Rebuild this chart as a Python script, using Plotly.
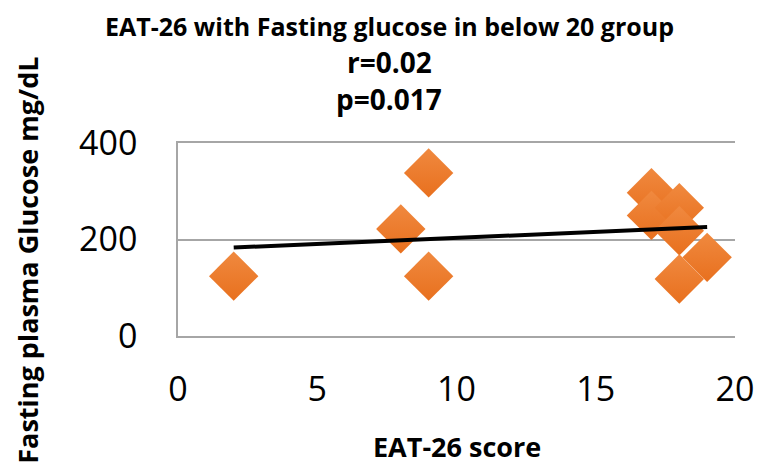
import numpy as np
import plotly.graph_objects as go

# Data
eat26_score = [2, 8, 9, 9, 17, 17, 18, 18, 18, 19]
fasting_glucose = [124, 222, 338, 124, 297, 250, 266, 218, 118, 163]
x_ticks = [0, 5, 10, 15, 20]
y_ticks = [0, 200, 400]
title_lines = ["EAT-26 with Fasting glucose in below 20 group", "r=0.02", "p=0.017"]
x_title = "EAT-26 score"
y_title = "Fasting plasma Glucose mg/dL"

slope, intercept = np.polyfit(eat26_score, fasting_glucose, 1)
x_fit = [min(eat26_score), max(eat26_score)]
y_fit = [slope * v + intercept for v in x_fit]

FONT = "Open Sans"
GRID = "#A6A6A6"

# page has an 8px body margin; plot area target on screen: x 178..745, y 143..336
OFF = 8
W, H = 766 - OFF, 467 - OFF
L, R, T, B = 178 - OFF, 766 - 745, 143 - OFF, 467 - 336
PW, PH = W - L - R, H - T - B


def px(sx):
    return (sx - 178) / PW


def py(sy):
    return (336 - sy) / PH


fig = go.Figure()
fig.add_trace(go.Scatter(
    x=eat26_score, y=fasting_glucose, mode="markers",
    marker=dict(symbol="diamond", size=38, color="#F0893F",
                gradient=dict(type="vertical", color="#E8701E"),
                line=dict(width=0)),
    showlegend=False, cliponaxis=False))
fig.add_trace(go.Scatter(
    x=x_fit, y=y_fit, mode="lines",
    line=dict(color="black", width=4), showlegend=False))

fig.update_layout(
    width=W, height=H,
    margin=dict(l=L, r=R, t=T, b=B),
    paper_bgcolor="white", plot_bgcolor="white",
    font=dict(family=FONT, color="black"),
    showlegend=False,
)
fig.update_xaxes(
    range=[0, 20], tickvals=x_ticks, showgrid=False, zeroline=False,
    showline=True, mirror=True, linecolor=GRID, linewidth=1.5, ticks="",
    tickfont=dict(size=34, family=FONT), ticklabelstandoff=22,
)
fig.update_yaxes(
    range=[0, 400], tickvals=y_ticks, showgrid=True, gridcolor=GRID, gridwidth=1.5,
    zeroline=False, showline=True, linecolor=GRID, linewidth=1.5, ticks="",
    tickfont=dict(size=34, family=FONT), ticklabelstandoff=32,
)

tx = px(393)
for text, sy, size in [(title_lines[0], 26, 25), (title_lines[1], 62, 28), (title_lines[2], 99, 28)]:
    fig.add_annotation(text="<b>" + text + "</b>", xref="paper", yref="paper",
                       x=tx, y=py(sy), xanchor="center", yanchor="middle",
                       showarrow=False, font=dict(size=size, family=FONT))
fig.add_annotation(text="<b>" + x_title + "</b>", xref="paper", yref="paper",
                   x=px(462), y=py(446), xanchor="center", yanchor="middle",
                   showarrow=False, font=dict(size=27, family=FONT))
fig.add_annotation(text="<b>" + y_title + "</b>", xref="paper", yref="paper",
                   x=px(24), y=py(260), xanchor="center", yanchor="middle",
                   textangle=-90, showarrow=False, font=dict(size=27, family=FONT))

fig.write_html("out.html")
